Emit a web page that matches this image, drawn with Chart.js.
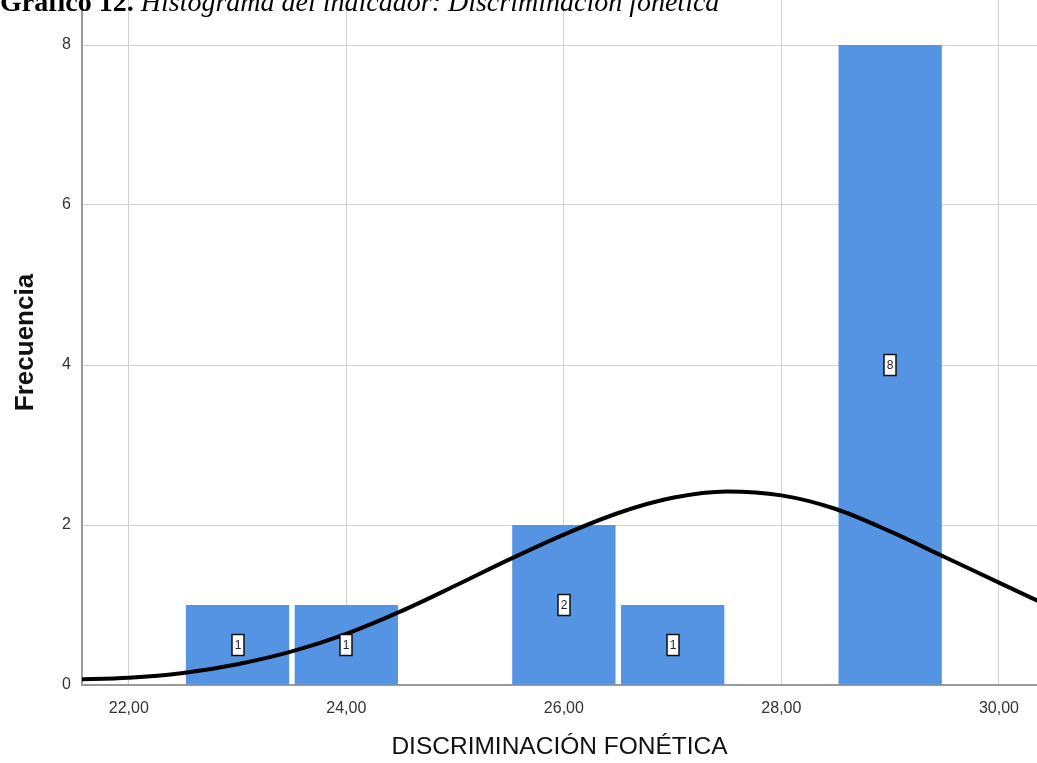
<!DOCTYPE html>
<html>
<head>
<meta charset="utf-8">
<script src="https://cdn.jsdelivr.net/npm/chart.js@4/dist/chart.umd.min.js"></script>
<style>
  body { margin: 0; background: #fff; overflow: hidden; }
  #wrap { position: relative; width: 1037px; height: 763px; }
  #chart { position: absolute; left: 0; top: 0; }
  #caption {
    position: absolute; left: 0; top: -12px; white-space: nowrap; line-height: 28px;
    font-family: 'Liberation Serif', 'Times New Roman', serif; font-size: 28px; color: #000;
    z-index: 2;
  }
  #caption b { font-weight: bold; }
  #caption i { font-style: italic; }
</style>
</head>
<body>
<div id="wrap">
  <div id="caption"><b>Gráfico 12.</b> <i>Histograma del indicador: Discriminación fonética</i></div>
  <canvas id="chart" width="1037" height="763"></canvas>
</div>
<script>
// Histogram bins (centre of each bin) and counts
const binCenters = [23, 24, 26, 27, 29];
const frequencies = [1, 1, 2, 1, 8];

// Normal curve
const curveX = [21.5, 22, 22.5, 23, 23.5, 24, 24.5, 25, 25.5, 26, 26.5, 27, 27.5, 28, 28.5, 29, 29.5, 30, 30.5];
const curveY = [0.07, 0.09, 0.15, 0.26, 0.42, 0.64, 0.92, 1.24, 1.57, 1.88, 2.15, 2.34, 2.42, 2.37, 2.20, 1.92, 1.60, 1.28, 0.96];

// Axis ticks
const xTicks = [22, 24, 26, 28, 30];
const xTickLabels = ['22,00', '24,00', '26,00', '28,00', '30,00'];
const yTicks = [0, 2, 4, 6, 8];
const yTickLabels = ['0', '2', '4', '6', '8'];

const barColor = '#5594e3';
const gridColor = '#d2d2d2';
const axisColor = '#9a9a9a';
const sans = '"Liberation Sans", Arial, sans-serif';

// small boxed count in the middle of each bar
const barLabels = {
    id: 'barLabels',
    afterDatasetsDraw(chart) {
        const ctx = chart.ctx;
        const xs = chart.scales.x, ys = chart.scales.y;
        ctx.save();
        ctx.font = '12px ' + sans;
        ctx.textAlign = 'center';
        ctx.textBaseline = 'middle';
        binCenters.forEach((c, i) => {
            const px = Math.round(xs.getPixelForValue(c));
            const py = Math.round(ys.getPixelForValue(frequencies[i] / 2));
            const w = 12, h = 21;
            ctx.fillStyle = '#fff';
            ctx.fillRect(px - w / 2, py - h / 2, w, h);
            ctx.strokeStyle = '#111';
            ctx.lineWidth = 1.5;
            ctx.strokeRect(px - w / 2, py - h / 2, w, h);
            ctx.fillStyle = '#222';
            ctx.fillText(String(frequencies[i]), px, py + 1);
        });
        ctx.restore();
    }
};

const ctx = document.getElementById('chart').getContext('2d');
new Chart(ctx, {
    type: 'bar',
    data: {
        datasets: [{
            type: 'line',
            data: curveX.map((x, i) => ({ x: x, y: curveY[i] })),
            borderColor: '#000',
            borderWidth: 4,
            pointRadius: 0,
            cubicInterpolationMode: 'monotone',
            fill: false,
            order: 0
        }, {
            type: 'bar',
            data: binCenters.map((x, i) => ({ x: x, y: frequencies[i] })),
            backgroundColor: barColor,
            borderWidth: 0,
            categoryPercentage: 1,
            barPercentage: 0.95,
            order: 1
        }]
    },
    options: {
        responsive: false,
        animation: false,
        layout: { padding: 0 },
        plugins: { legend: { display: false }, tooltip: { enabled: false } },
        scales: {
            x: {
                type: 'linear',
                offset: false,
                min: 21.57,
                max: 30.35,
                afterBuildTicks: (s) => { s.ticks = xTicks.map(v => ({ value: v })); },
                afterFit: (s) => { s.height = 78; s.paddingLeft = 0; s.paddingRight = 0; },
                grid: { color: gridColor, offset: false, drawTicks: false },
                border: { color: axisColor, width: 2 },
                ticks: {
                    padding: 14,
                    color: '#333',
                    font: { family: sans, size: 16 },
                    callback: (v, i) => xTickLabels[i]
                },
                title: {
                    display: true,
                    text: 'DISCRIMINACIÓN FONÉTICA',
                    color: '#111',
                    font: { family: sans, size: 24.5 },
                    padding: { top: 0, bottom: 1 }
                }
            },
            y: {
                min: 0,
                max: 8.5625,
                afterBuildTicks: (s) => { s.ticks = yTicks.map(v => ({ value: v })); },
                afterFit: (s) => { s.width = 82; s.paddingTop = 0; s.paddingBottom = 0; },
                grid: { color: gridColor, drawTicks: false },
                border: { color: axisColor, width: 2 },
                ticks: {
                    padding: 11,
                    color: '#333',
                    font: { family: sans, size: 16 },
                    callback: (v, i) => yTickLabels[i]
                },
                title: {
                    display: true,
                    text: 'Frecuencia',
                    color: '#111',
                    font: { family: sans, size: 26, weight: 'bold' },
                    padding: { top: 10, bottom: 0 }
                }
            }
        }
    },
    plugins: [barLabels]
});
</script>
</body>
</html>
